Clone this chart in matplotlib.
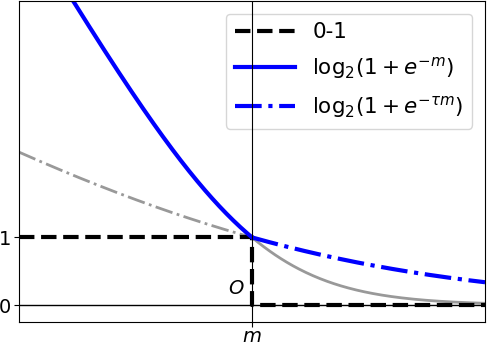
import numpy as np
import matplotlib
matplotlib.use("Agg")
import matplotlib.pyplot as plt

# 参数
tau = 1 / 3
m_left = np.linspace(-4, 0, 200)
m_right = np.linspace(0, 4, 200)

# 0-1 损失
zero_one_x = [-4, 0, 0, 4]
zero_one_y = [1, 1, 0, 0]

y_ticks = [0, 1]
y_tick_labels = ["0", "1"]
x_ticks = [0]
x_tick_labels = ["$m$"]


def logistic(m, t=1.0):
    return np.log2(1 + np.exp(-t * m))


plt.rcParams["mathtext.fontset"] = "dejavusans"
fig = plt.figure(figsize=(4.88, 3.44), dpi=100)
ax = fig.add_axes([0.039, 0.064, 0.955, 0.934])

# 灰色部分（另一侧）
ax.plot(m_left, logistic(m_left, tau), color="#999999", ls="-.", lw=2)
ax.plot(m_right, logistic(m_right), color="#999999", ls="-", lw=2)

ax.plot(zero_one_x, zero_one_y, "k--", lw=3, label="0-1")
ax.plot(m_left, logistic(m_left), color="blue", lw=3,
        label=r"$\mathrm{log}_2(1+e^{-m})$")
ax.plot(m_right, logistic(m_right, tau), color="blue", ls="-.", lw=3,
        label=r"$\mathrm{log}_2(1+e^{-\tau m})$")

ax.axhline(0, color="black", lw=1)
ax.axvline(0, color="black", lw=0.8, zorder=10)
ax.text(-0.12, 0.1, "$O$", fontsize=14, ha="right", va="bottom")

ax.set_xlim(-4, 4)
ax.set_ylim(-0.25, 4.5)
ax.set_xticks(x_ticks)
ax.set_xticklabels(x_tick_labels, fontsize=14)
ax.set_yticks(y_ticks)
ax.set_yticklabels(y_tick_labels, fontsize=14)
ax.tick_params(axis="x", pad=0)
ax.tick_params(axis="y", pad=2)

ax.legend(loc="upper right", fontsize=15.5, handlelength=2.8,
          labelspacing=0.6, borderaxespad=0.6)
fig.savefig("out.png", dpi=100)
